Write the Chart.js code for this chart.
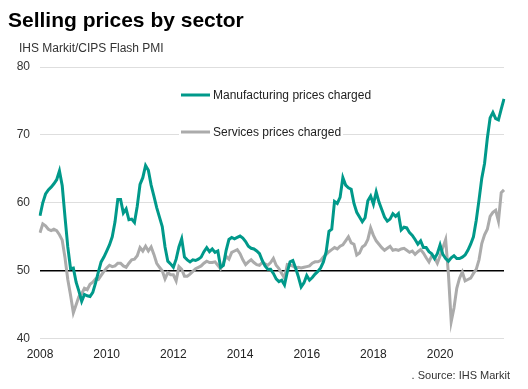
<!DOCTYPE html>
<html>
<head>
<meta charset="utf-8">
<script src="https://cdn.jsdelivr.net/npm/chart.js@4.4.1/dist/chart.umd.min.js"></script>
<style>
  html, body { margin: 0; padding: 0; background: #fff; }
</style>
</head>
<body>
<canvas id="chart" width="528" height="389"></canvas>
<script>
// tick labels on the x axis (January of each even year)
const xTickLabels = ['2008', '2010', '2012', '2014', '2016', '2018', '2020'];
const seriesNames = ['Manufacturing prices charged', 'Services prices charged'];

// monthly index values, Jan 2008 onwards
const manufacturing = [
  58.1, 60.0, 61.3, 61.9, 62.3, 62.8, 63.4, 64.7, 62.5, 57.9, 53.5, 50.3,
  50.4, 48.3, 47.0, 45.5, 46.5, 46.3, 46.2, 46.8, 48.2, 49.8, 51.3, 52.0,
  52.9, 53.8, 55.0, 57.2, 60.5, 60.5, 58.5, 59.1, 57.5, 57.6, 57.1, 59.5,
  62.7, 63.7, 65.5, 64.8, 62.6, 61.0, 59.3, 57.9, 56.5, 53.5, 51.4, 51.0,
  50.5, 51.7, 53.5, 54.7, 52.0, 51.6, 51.3, 51.6, 51.5, 51.7, 52.0, 52.8,
  53.4, 52.8, 53.2, 52.7, 52.9, 50.5, 50.8, 53.0, 54.6, 54.9, 54.7, 54.9,
  55.1, 54.8, 54.3, 53.6, 53.3, 53.2, 52.9, 52.5, 51.5, 50.7, 50.2, 50.2,
  49.6, 48.8, 48.4, 48.6, 47.9, 49.8, 51.3, 51.5, 50.4, 49.1, 47.6, 48.2,
  49.3, 48.6, 49.0, 49.5, 49.9, 50.4, 51.3, 52.8, 55.8, 56.1, 60.2, 59.9,
  60.8, 63.7, 62.6, 62.2, 62.0, 59.9, 58.6, 57.9, 57.2, 57.8, 60.3, 61.0,
  59.8, 61.6, 60.1, 59.0, 57.9, 57.3, 57.6, 58.4, 58.0, 58.4, 56.0, 56.4,
  56.3, 55.6, 55.2, 54.6, 53.9, 54.4, 53.4, 53.4, 52.8, 52.5, 51.8, 52.5,
  53.8, 52.4, 51.8, 51.4, 51.9, 52.2, 51.8, 51.8, 52.0, 52.3, 53.0, 53.9,
  55.0, 57.4, 60.4, 63.6, 65.8, 69.5, 72.5, 73.3, 72.4, 72.2, 73.8, 75.3
];
const services = [
  55.6, 56.9, 56.6, 56.1, 55.9, 56.1, 55.9, 55.3, 54.5, 51.9, 48.7, 46.4,
  43.8, 45.0, 46.2, 46.6, 47.4, 47.2, 48.0, 48.3, 48.8, 48.7, 49.3, 49.9,
  50.4, 50.8, 50.6, 50.7, 51.1, 51.1, 50.7, 50.5, 51.1, 51.6, 51.7, 52.2,
  53.4, 52.9, 53.6, 52.9, 53.5, 52.4, 51.1, 50.5, 50.0, 48.8, 49.7, 49.4,
  49.4, 48.5, 50.6, 50.2, 49.2, 49.2, 49.5, 49.9, 50.3, 50.5, 50.7, 51.1,
  51.4, 51.2, 51.2, 51.3, 50.8, 50.3, 51.1, 52.1, 51.7, 52.7, 52.9, 53.1,
  52.5, 51.6, 50.9, 51.3, 51.6, 51.2, 50.9, 50.8, 51.2, 51.0, 50.8, 51.2,
  51.8, 50.8, 50.3, 49.6, 48.9, 50.9, 50.8, 50.7, 50.4, 50.5, 50.4, 50.5,
  50.6, 50.7, 51.1, 51.3, 51.3, 51.5, 52.0, 52.4, 52.8, 53.1, 53.4, 53.2,
  53.6, 53.8, 54.4, 55.0, 54.1, 53.9, 52.3, 52.6, 53.5, 53.8, 54.6, 56.3,
  55.2, 54.4, 53.9, 53.4, 53.0, 53.3, 53.6, 53.0, 53.1, 53.0, 53.2, 53.3,
  53.0, 52.7, 52.9, 52.4, 52.8, 53.1, 52.6, 51.9, 51.3, 52.2, 51.9, 51.1,
  52.2, 53.4, 54.6, 49.5, 42.5, 44.5, 47.4, 48.9, 49.8, 48.5, 48.7, 48.9,
  49.6, 50.2, 51.6, 54.0, 55.3, 56.1, 58.0, 58.6, 58.9, 57.3, 61.5, 61.9
];

// one category per month
const months = [];
for (let y = 2008; y <= 2021; y++) {
  for (let m = 1; m <= 12; m++) {
    months.push(y + '-' + String(m).padStart(2, '0'));
  }
}

Chart.defaults.font.family = "'Liberation Sans', Arial, sans-serif";
Chart.defaults.color = '#333';

// title, subtitle, in-plot legend and source line
const annotations = {
  id: 'annotations',
  afterDraw(chart) {
    const ctx = chart.ctx;
    const ds = chart.data.datasets;
    ctx.save();
    ctx.fillStyle = '#000';
    ctx.textBaseline = 'alphabetic';
    ctx.font = "bold 21px 'Liberation Sans', Arial, sans-serif";
    ctx.fillText('Selling prices by sector', 8, 27);
    ctx.fillStyle = '#333';
    ctx.font = "12px 'Liberation Sans', Arial, sans-serif";
    ctx.fillText('IHS Markit/CIPS Flash PMI', 19, 52);

    // legend
    const items = [
      { x: 181, y: 95 },
      { x: 181, y: 132 }
    ];
    items.forEach((it, i) => {
      const w = ctx.measureText(ds[i].label).width;
      ctx.fillStyle = '#fff';
      ctx.fillRect(it.x - 2, it.y - 8, 36 + w, 16);
      ctx.strokeStyle = ds[i].borderColor;
      ctx.lineWidth = 3;
      ctx.beginPath();
      ctx.moveTo(it.x, it.y);
      ctx.lineTo(it.x + 29, it.y);
      ctx.stroke();
      ctx.fillStyle = '#222';
      ctx.textBaseline = 'middle';
      ctx.fillText(ds[i].label, it.x + 32, it.y + 1);
    });

    ctx.font = "11px 'Liberation Sans', Arial, sans-serif";
    ctx.textAlign = 'right';
    ctx.fillStyle = '#333';
    ctx.fillText('. Source: IHS Markit', 510, 376);
    ctx.restore();
  }
};

new Chart(document.getElementById('chart'), {
  type: 'line',
  data: {
    labels: months,
    datasets: [
      {
        label: seriesNames[0],
        data: manufacturing,
        borderColor: '#00998a',
        borderWidth: 3,
        pointRadius: 0,
        tension: 0
      },
      {
        label: seriesNames[1],
        data: services,
        borderColor: '#ababab',
        borderWidth: 3,
        pointRadius: 0,
        tension: 0
      }
    ]
  },
  options: {
    responsive: false,
    animation: false,
    layout: { padding: { top: 67, right: 24, bottom: 26, left: 0 } },
    plugins: {
      legend: { display: false },
      tooltip: { enabled: false }
    },
    scales: {
      x: {
        grid: { display: false },
        border: { display: false },
        ticks: {
          autoSkip: false,
          maxRotation: 0,
          minRotation: 0,
          padding: 1,
          font: { size: 12 },
          color: '#222',
          callback: function (val) {
            const lab = this.getLabelForValue(val);
            const yr = lab.slice(0, 4);
            return lab.endsWith('-01') && xTickLabels.includes(yr) ? yr : '';
          }
        }
      },
      y: {
        min: 40,
        max: 80,
        afterFit: (scale) => { scale.width = 40; },
        border: { display: false },
        grid: {
          drawTicks: false,
          color: (c) => c.tick.value === 50 ? '#000' : '#dedede',
          lineWidth: (c) => c.tick.value === 50 ? 1.5 : 1
        },
        ticks: {
          stepSize: 10,
          padding: 10,
          font: { size: 12 },
          color: '#333'
        }
      }
    }
  },
  plugins: [annotations]
});
</script>
</body>
</html>
